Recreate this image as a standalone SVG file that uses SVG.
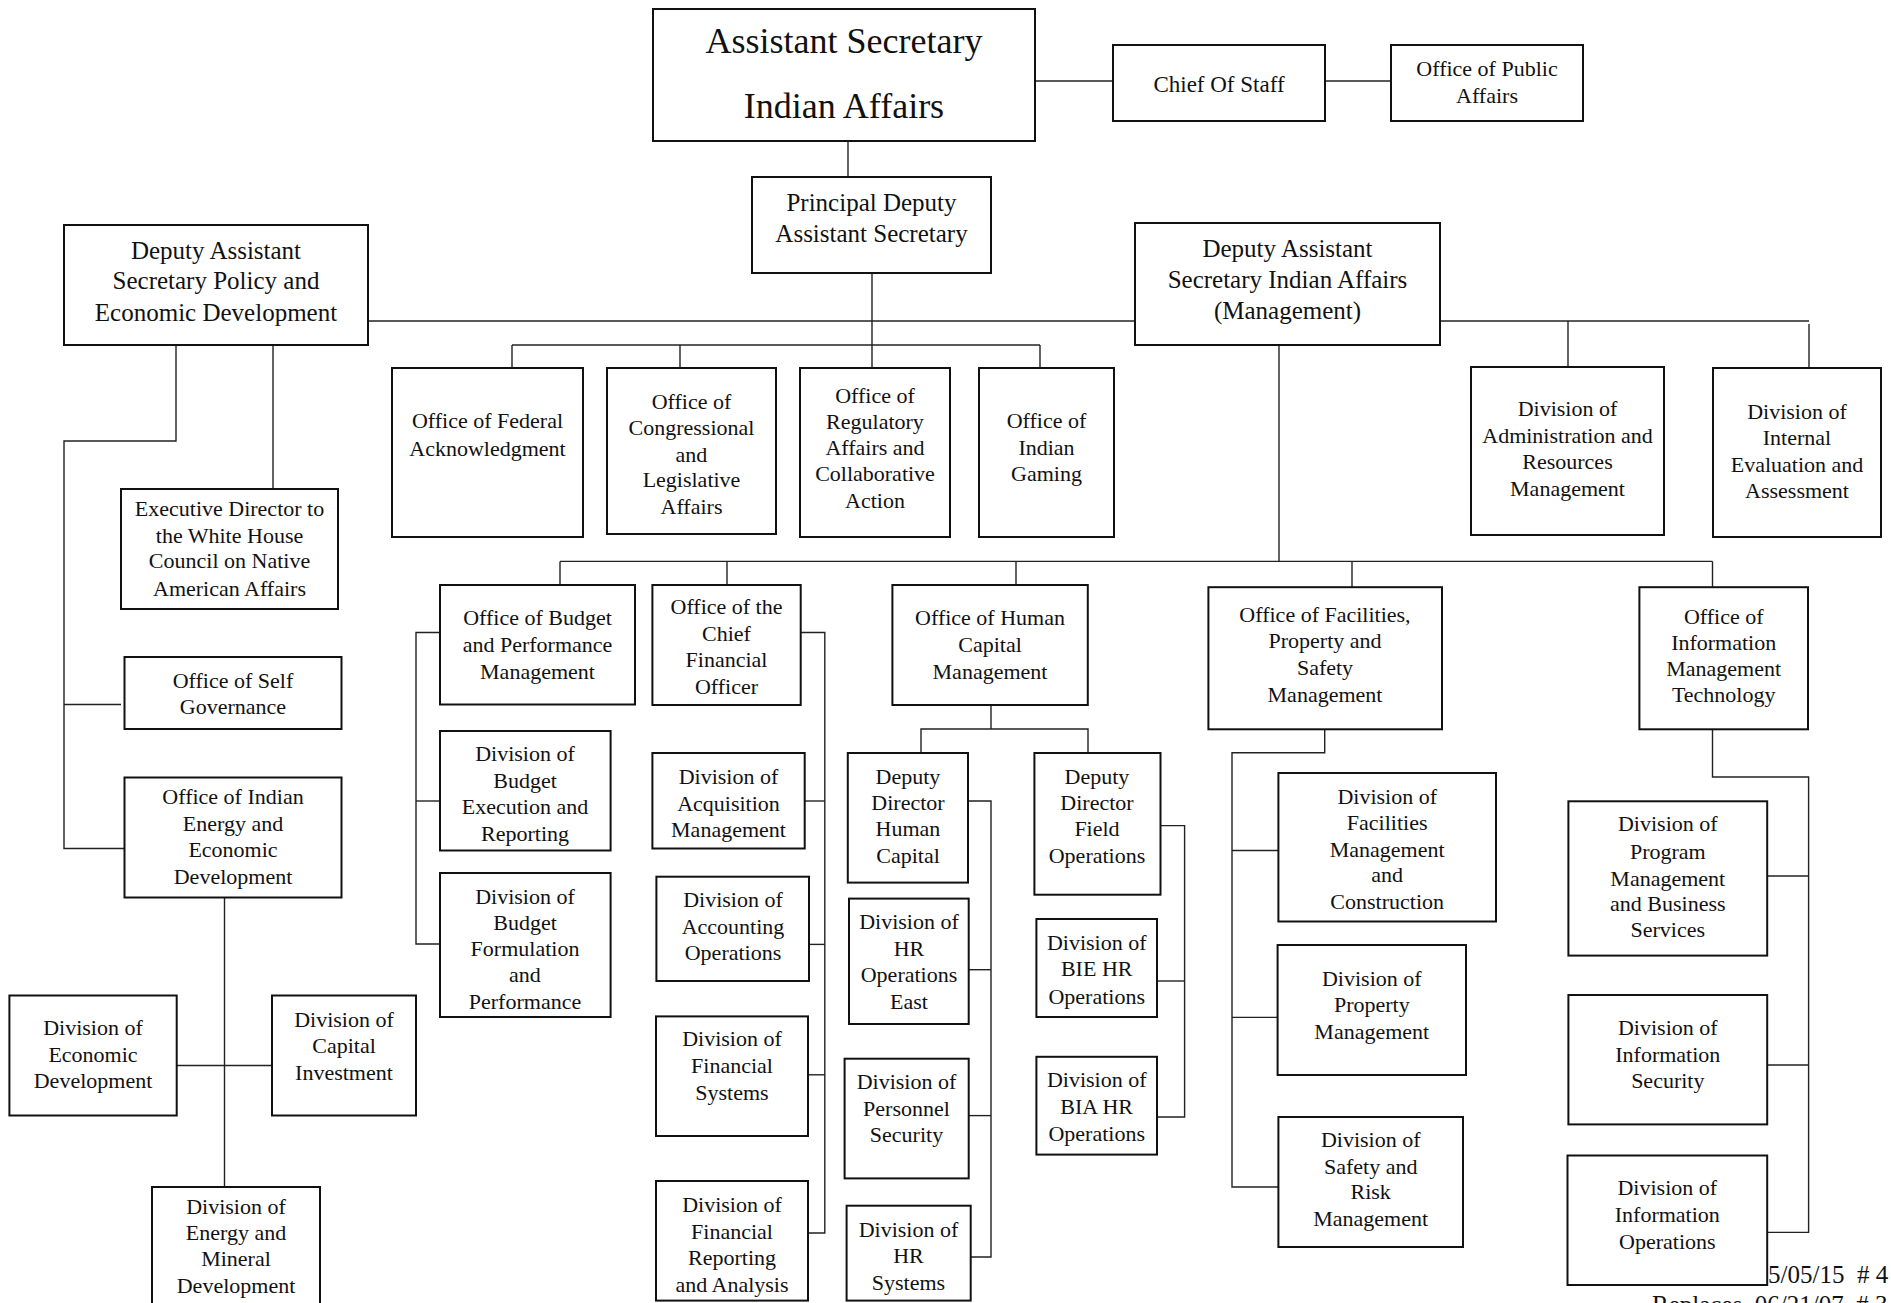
<svg xmlns="http://www.w3.org/2000/svg" width="1891" height="1303" viewBox="0 0 1891 1303">
<style>
rect.b{fill:#fff;stroke:#111;stroke-width:2}
text{font-family:"Liberation Serif","Times New Roman",serif;text-anchor:middle;fill:#111}
.t36{font-size:36px}.t25{font-size:25px}.t23{font-size:23px}.t22{font-size:22px}
#connectors path{fill:none;stroke:#222;stroke-width:1.4}
.foot{font-size:25px;text-anchor:start}
</style>
<rect width="1891" height="1303" fill="#fff"/>
<g id="connectors">
<path d="M1035,81 H1113"/>
<path d="M1325,81 H1391"/>
<path d="M848,141 V177"/>
<path d="M872,273 V368"/>
<path d="M368,321 H1135"/>
<path d="M1440,321 H1809"/>
<path d="M1568,321 V367"/>
<path d="M1809,324 V368"/>
<path d="M512,345 H1040"/>
<path d="M512,345 V368"/>
<path d="M680,345 V368"/>
<path d="M1040,345 V368"/>
<path d="M176,345 V441 H64 V848.5 H124.5"/>
<path d="M64,704.5 H121"/>
<path d="M273,345 V489"/>
<path d="M224.5,897.5 V1187"/>
<path d="M176.7,1065.5 H272"/>
<path d="M1279,345 V561.4"/>
<path d="M560,561.4 H1712.5"/>
<path d="M560,561.4 V585"/>
<path d="M727,561.4 V585"/>
<path d="M1016,561.4 V585"/>
<path d="M1352,561.4 V587"/>
<path d="M1712.5,561.4 V587"/>
<path d="M440,632.5 H416 V944 H440"/>
<path d="M416,801 H440"/>
<path d="M800.7,632.5 H824.8 V1233 H808"/>
<path d="M804.7,801 H824.8"/>
<path d="M809,944.4 H824.8"/>
<path d="M808,1074.8 H824.8"/>
<path d="M991,705 V729"/>
<path d="M921,753 V729 H1088 V753"/>
<path d="M969,801 H991 V1257 H970.7"/>
<path d="M968.7,969.7 H991"/>
<path d="M968.7,1115.6 H991"/>
<path d="M1160.5,825.6 H1184.6 V1117 H1157"/>
<path d="M1157,981 H1184.6"/>
<path d="M1324.7,729.3 V752.7 H1232 V1187 H1278.4"/>
<path d="M1232,850.5 H1278.4"/>
<path d="M1232,1017.4 H1277.6"/>
<path d="M1712.5,729.3 V777 H1808.6 V1232.4 H1767.2"/>
<path d="M1767.2,876 H1808.6"/>
<path d="M1767.2,1065 H1808.6"/>
</g>

<g id="assistant-secretary"><rect class="b" x="653" y="9" width="382" height="132"/>
<text class="t36" x="844" y="53">Assistant Secretary</text><text class="t36" x="844" y="118">Indian Affairs</text></g>
<g id="chief-of-staff"><rect class="b" x="1113" y="45" width="212" height="76"/>
<text class="t23" x="1219" y="92">Chief Of Staff</text></g>
<g id="office-public-affairs"><rect class="b" x="1391" y="45" width="192" height="76"/>
<text class="t22" x="1487" y="76">Office of Public</text><text class="t22" x="1487" y="103">Affairs</text></g>
<g id="principal-deputy"><rect class="b" x="752" y="177" width="239" height="96"/>
<text class="t25" x="871.5" y="211">Principal Deputy</text><text class="t25" x="871.5" y="242">Assistant Secretary</text></g>
<g id="das-policy"><rect class="b" x="64" y="225" width="304" height="120"/>
<text class="t25" x="216" y="259">Deputy Assistant</text><text class="t25" x="216" y="289">Secretary Policy and</text><text class="t25" x="216" y="320.5">Economic Development</text></g>
<g id="das-management"><rect class="b" x="1135" y="223" width="305" height="122"/>
<text class="t25" x="1287.5" y="257">Deputy Assistant</text><text class="t25" x="1287.5" y="288">Secretary Indian Affairs</text><text class="t25" x="1287.5" y="319">(Management)</text></g>
<g id="federal-ack"><rect class="b" x="392" y="368" width="191" height="169"/>
<text class="t22" x="487.5" y="428">Office of Federal</text><text class="t22" x="487.5" y="456">Acknowledgment</text></g>
<g id="congressional"><rect class="b" x="607" y="368" width="169" height="166"/>
<text class="t22" x="691.5" y="409">Office of</text><text class="t22" x="691.5" y="435">Congressional</text><text class="t22" x="691.5" y="462">and</text><text class="t22" x="691.5" y="487">Legislative</text><text class="t22" x="691.5" y="514">Affairs</text></g>
<g id="regulatory"><rect class="b" x="800" y="368" width="150" height="169"/>
<text class="t22" x="875" y="403">Office of</text><text class="t22" x="875" y="429">Regulatory</text><text class="t22" x="875" y="455">Affairs and</text><text class="t22" x="875" y="481">Collaborative</text><text class="t22" x="875" y="508">Action</text></g>
<g id="indian-gaming"><rect class="b" x="979" y="368" width="135" height="169"/>
<text class="t22" x="1046.5" y="428">Office of</text><text class="t22" x="1046.5" y="455">Indian</text><text class="t22" x="1046.5" y="481">Gaming</text></g>
<g id="div-admin"><rect class="b" x="1471" y="367" width="193" height="168"/>
<text class="t22" x="1567.5" y="416">Division of</text><text class="t22" x="1567.5" y="443">Administration and</text><text class="t22" x="1567.5" y="469">Resources</text><text class="t22" x="1567.5" y="496">Management</text></g>
<g id="div-internal-eval"><rect class="b" x="1713" y="368" width="168" height="169"/>
<text class="t22" x="1797" y="418.5">Division of</text><text class="t22" x="1797" y="445">Internal</text><text class="t22" x="1797" y="472">Evaluation and</text><text class="t22" x="1797" y="498">Assessment</text></g>
<g id="exec-director"><rect class="b" x="121" y="489" width="217" height="120"/>
<text class="t22" x="229.5" y="516">Executive Director to</text><text class="t22" x="229.5" y="543">the White House</text><text class="t22" x="229.5" y="568">Council on Native</text><text class="t22" x="229.5" y="596">American Affairs</text></g>
<g id="self-governance"><rect class="b" x="124.5" y="657" width="217" height="72"/>
<text class="t22" x="233" y="687.5">Office of Self</text><text class="t22" x="233" y="714">Governance</text></g>
<g id="indian-energy"><rect class="b" x="124.5" y="777.5" width="217" height="120"/>
<text class="t22" x="233" y="803.5">Office of Indian</text><text class="t22" x="233" y="831">Energy and</text><text class="t22" x="233" y="856.5">Economic</text><text class="t22" x="233" y="884">Development</text></g>
<g id="div-econ-dev"><rect class="b" x="9.4" y="995.5" width="167.3" height="120"/>
<text class="t22" x="93" y="1035">Division of</text><text class="t22" x="93" y="1061.5">Economic</text><text class="t22" x="93" y="1088">Development</text></g>
<g id="div-capital"><rect class="b" x="272" y="995.5" width="144" height="120"/>
<text class="t22" x="344" y="1026.5">Division of</text><text class="t22" x="344" y="1053">Capital</text><text class="t22" x="344" y="1079.5">Investment</text></g>
<g id="div-energy-mineral"><rect class="b" x="152" y="1187" width="168" height="130"/>
<text class="t22" x="236" y="1214">Division of</text><text class="t22" x="236" y="1240">Energy and</text><text class="t22" x="236" y="1266">Mineral</text><text class="t22" x="236" y="1292.5">Development</text></g>
<g id="budget-office"><rect class="b" x="440" y="585" width="195" height="119.5"/>
<text class="t22" x="537.5" y="625">Office of Budget</text><text class="t22" x="537.5" y="651.5">and Performance</text><text class="t22" x="537.5" y="679">Management</text></g>
<g id="cfo"><rect class="b" x="652.4" y="585" width="148.3" height="120"/>
<text class="t22" x="726.5" y="614">Office of the</text><text class="t22" x="726.5" y="640.5">Chief</text><text class="t22" x="726.5" y="667">Financial</text><text class="t22" x="726.5" y="693.5">Officer</text></g>
<g id="hcm"><rect class="b" x="892.4" y="585" width="195.4" height="120"/>
<text class="t22" x="990" y="625">Office of Human</text><text class="t22" x="990" y="651.5">Capital</text><text class="t22" x="990" y="679">Management</text></g>
<g id="facilities"><rect class="b" x="1208.4" y="587.2" width="233.6" height="142.1"/>
<text class="t22" x="1325" y="621.5">Office of Facilities,</text><text class="t22" x="1325" y="648">Property and</text><text class="t22" x="1325" y="674.5">Safety</text><text class="t22" x="1325" y="702">Management</text></g>
<g id="info-mgmt"><rect class="b" x="1639.4" y="587.2" width="168.6" height="142.1"/>
<text class="t22" x="1723.7" y="623.5">Office of</text><text class="t22" x="1723.7" y="650">Information</text><text class="t22" x="1723.7" y="675.5">Management</text><text class="t22" x="1723.7" y="702">Technology</text></g>
<g id="div-budget-exec"><rect class="b" x="440" y="731" width="170.6" height="119.5"/>
<text class="t22" x="525" y="761">Division of</text><text class="t22" x="525" y="787.5">Budget</text><text class="t22" x="525" y="814">Execution and</text><text class="t22" x="525" y="841">Reporting</text></g>
<g id="div-budget-form"><rect class="b" x="440" y="873" width="170.6" height="144"/>
<text class="t22" x="525" y="903.5">Division of</text><text class="t22" x="525" y="930">Budget</text><text class="t22" x="525" y="955.5">Formulation</text><text class="t22" x="525" y="982">and</text><text class="t22" x="525" y="1008.5">Performance</text></g>
<g id="div-acquisition"><rect class="b" x="652.4" y="753" width="152.3" height="95.5"/>
<text class="t22" x="728.5" y="784">Division of</text><text class="t22" x="728.5" y="810.5">Acquisition</text><text class="t22" x="728.5" y="837">Management</text></g>
<g id="div-accounting"><rect class="b" x="656.4" y="876.7" width="152.6" height="104.3"/>
<text class="t22" x="733" y="907">Division of</text><text class="t22" x="733" y="933.5">Accounting</text><text class="t22" x="733" y="960">Operations</text></g>
<g id="div-fin-systems"><rect class="b" x="656" y="1016.4" width="152" height="119.6"/>
<text class="t22" x="732" y="1046">Division of</text><text class="t22" x="732" y="1072.5">Financial</text><text class="t22" x="732" y="1100">Systems</text></g>
<g id="div-fin-reporting"><rect class="b" x="656" y="1181" width="152" height="119.6"/>
<text class="t22" x="732" y="1212">Division of</text><text class="t22" x="732" y="1238.5">Financial</text><text class="t22" x="732" y="1265">Reporting</text><text class="t22" x="732" y="1291.5">and Analysis</text></g>
<g id="dd-human-capital"><rect class="b" x="847.8" y="753" width="120.2" height="129.6"/>
<text class="t22" x="908" y="784">Deputy</text><text class="t22" x="908" y="809.5">Director</text><text class="t22" x="908" y="836">Human</text><text class="t22" x="908" y="862.5">Capital</text></g>
<g id="div-hr-east"><rect class="b" x="849" y="898.6" width="119.7" height="125.4"/>
<text class="t22" x="909" y="929">Division of</text><text class="t22" x="909" y="955.5">HR</text><text class="t22" x="909" y="982">Operations</text><text class="t22" x="909" y="1008.5">East</text></g>
<g id="div-personnel-security"><rect class="b" x="844.6" y="1058.7" width="124.1" height="119.7"/>
<text class="t22" x="906.5" y="1089">Division of</text><text class="t22" x="906.5" y="1116">Personnel</text><text class="t22" x="906.5" y="1142">Security</text></g>
<g id="div-hr-systems"><rect class="b" x="846.6" y="1205.7" width="124.1" height="94.9"/>
<text class="t22" x="908.5" y="1237">Division of</text><text class="t22" x="908.5" y="1263">HR</text><text class="t22" x="908.5" y="1290">Systems</text></g>
<g id="dd-field-ops"><rect class="b" x="1034.4" y="753" width="126.1" height="141.7"/>
<text class="t22" x="1097" y="784">Deputy</text><text class="t22" x="1097" y="809.5">Director</text><text class="t22" x="1097" y="836">Field</text><text class="t22" x="1097" y="862.5">Operations</text></g>
<g id="div-bie-hr"><rect class="b" x="1036.4" y="919" width="120.6" height="98"/>
<text class="t22" x="1096.7" y="949.5">Division of</text><text class="t22" x="1096.7" y="976">BIE HR</text><text class="t22" x="1096.7" y="1003.5">Operations</text></g>
<g id="div-bia-hr"><rect class="b" x="1036.4" y="1056.8" width="120.6" height="97.8"/>
<text class="t22" x="1096.7" y="1087">Division of</text><text class="t22" x="1096.7" y="1113.5">BIA HR</text><text class="t22" x="1096.7" y="1141">Operations</text></g>
<g id="div-facilities-mgmt"><rect class="b" x="1278.4" y="773" width="217.6" height="148.5"/>
<text class="t22" x="1387.2" y="803.5">Division of</text><text class="t22" x="1387.2" y="830">Facilities</text><text class="t22" x="1387.2" y="856.5">Management</text><text class="t22" x="1387.2" y="882">and</text><text class="t22" x="1387.2" y="908.5">Construction</text></g>
<g id="div-property"><rect class="b" x="1277.6" y="945" width="188.4" height="130"/>
<text class="t22" x="1371.8" y="985.5">Division of</text><text class="t22" x="1371.8" y="1012">Property</text><text class="t22" x="1371.8" y="1038.5">Management</text></g>
<g id="div-safety"><rect class="b" x="1278.4" y="1117" width="184.6" height="130"/>
<text class="t22" x="1370.7" y="1147">Division of</text><text class="t22" x="1370.7" y="1173.5">Safety and</text><text class="t22" x="1370.7" y="1199">Risk</text><text class="t22" x="1370.7" y="1225.5">Management</text></g>
<g id="div-program-mgmt"><rect class="b" x="1568.4" y="801.3" width="198.8" height="154.3"/>
<text class="t22" x="1667.8" y="831">Division of</text><text class="t22" x="1667.8" y="859">Program</text><text class="t22" x="1667.8" y="885.5">Management</text><text class="t22" x="1667.8" y="911">and Business</text><text class="t22" x="1667.8" y="937">Services</text></g>
<g id="div-info-security"><rect class="b" x="1568.4" y="995" width="198.8" height="129.4"/>
<text class="t22" x="1667.8" y="1035">Division of</text><text class="t22" x="1667.8" y="1061.5">Information</text><text class="t22" x="1667.8" y="1088">Security</text></g>
<g id="div-info-ops"><rect class="b" x="1567.5" y="1155.5" width="199.7" height="129.5"/>
<text class="t22" x="1667.3" y="1195">Division of</text><text class="t22" x="1667.3" y="1222">Information</text><text class="t22" x="1667.3" y="1248.5">Operations</text></g>
<text class="foot" x="1768" y="1283" xml:space="preserve">5/05/15  # 4</text>
<text class="foot" x="1652" y="1313" xml:space="preserve">Replaces  06/21/07  # 3</text>
</svg>
